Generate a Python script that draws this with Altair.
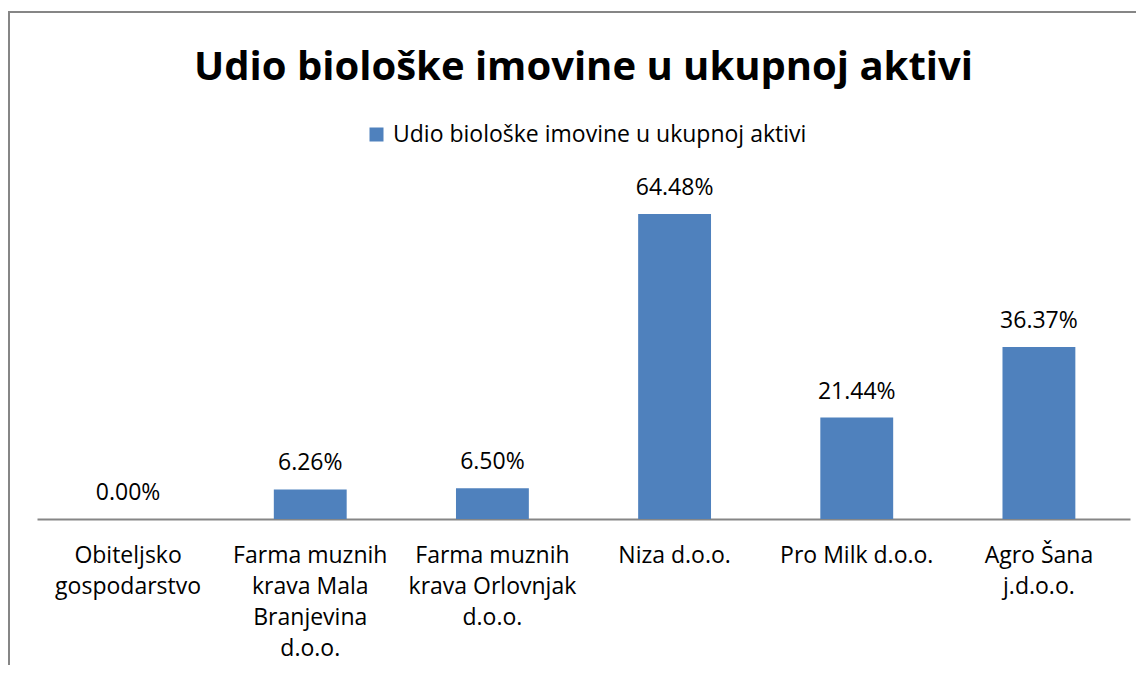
import altair as alt
import pandas as pd

categories = [
    "Obiteljsko gospodarstvo",
    "Farma muznih krava Mala Branjevina d.o.o.",
    "Farma muznih krava Orlovnjak d.o.o.",
    "Niza d.o.o.",
    "Pro Milk d.o.o.",
    "Agro Šana j.d.o.o.",
]
wrapped_labels = [
    "Obiteljsko|gospodarstvo",
    "Farma muznih|krava Mala|Branjevina|d.o.o.",
    "Farma muznih|krava Orlovnjak|d.o.o.",
    "Niza d.o.o.",
    "Pro Milk d.o.o.",
    "Agro Šana|j.d.o.o.",
]
values = [0.00, 6.26, 6.50, 64.48, 21.44, 36.37]
series_name = "Udio biološke imovine u ukupnoj aktivi"
chart_title = "Udio biološke imovine u ukupnoj aktivi"

df = pd.DataFrame({
    "category": categories,
    "label": wrapped_labels,
    "value": values,
    "series": [series_name] * len(categories),
})

FONT = "Open Sans"
TITLE_FONT = "Open Sans"
FS = 23
BLUE = "#4F81BD"
GRAY = "#868686"

x_enc = alt.X(
    "label:N",
    sort=wrapped_labels,
    scale=alt.Scale(paddingInner=0.6, paddingOuter=0.3),
    axis=alt.Axis(
        title=None,
        labelAngle=0,
        labelExpr="split(datum.label, '|')",
        labelFont=FONT,
        labelFontSize=FS,
        labelColor="#000000",
        labelLineHeight=31,
        labelPadding=25,
        labelLimit=300,
        ticks=False,
        grid=False,
        domainColor=GRAY,
        domainWidth=2,
    ),
)
y_enc = alt.Y(
    "value:Q",
    scale=alt.Scale(domain=[0, 70], nice=False),
    axis=None,
)

bars = alt.Chart(df).mark_bar().encode(
    x=x_enc,
    y=y_enc,
    color=alt.Color(
        "series:N",
        scale=alt.Scale(range=[BLUE]),
        legend=alt.Legend(
            title=None,
            orient="none",
            legendX=328,
            legendY=-65,
            symbolType="square",
            symbolSize=196,
            symbolStrokeWidth=0,
            labelFont=FONT,
            labelFontSize=FS,
            labelColor="#000000",
            labelLimit=600,
            labelOffset=5,
        ),
    ),
)

texts = alt.Chart(df).transform_calculate(
    txt="format(datum.value, '.2f') + '%'"
).mark_text(
    font=FONT, fontSize=FS, color="#000000", baseline="alphabetic", dy=-19
).encode(
    x=alt.X("label:N", sort=wrapped_labels),
    y=alt.Y("value:Q"),
    text="txt:N",
)

frame_left = alt.Chart(df).mark_rule(color=GRAY, strokeWidth=2).encode(
    x=alt.value(-28), y=alt.value(-176), y2=alt.value(520)
)
frame_top = alt.Chart(df).mark_rule(color=GRAY, strokeWidth=2).encode(
    x=alt.value(-29), x2=alt.value(1110), y=alt.value(-176)
)

chart = alt.layer(frame_left, frame_top, bars, texts).properties(
    width=1093,
    height=331,
    autosize=alt.AutoSizeParams(type="none"),
    padding={"left": 29, "top": 180, "right": 6, "bottom": 146},
    title=alt.TitleParams(
        text=chart_title,
        font=TITLE_FONT,
        fontSize=40,
        fontWeight="bold",
        color="#000000",
        anchor="middle",
        offset=-77,
    ),
).configure_view(stroke=None)

chart.save("out.html", embed_options={"renderer": "svg", "actions": False})
